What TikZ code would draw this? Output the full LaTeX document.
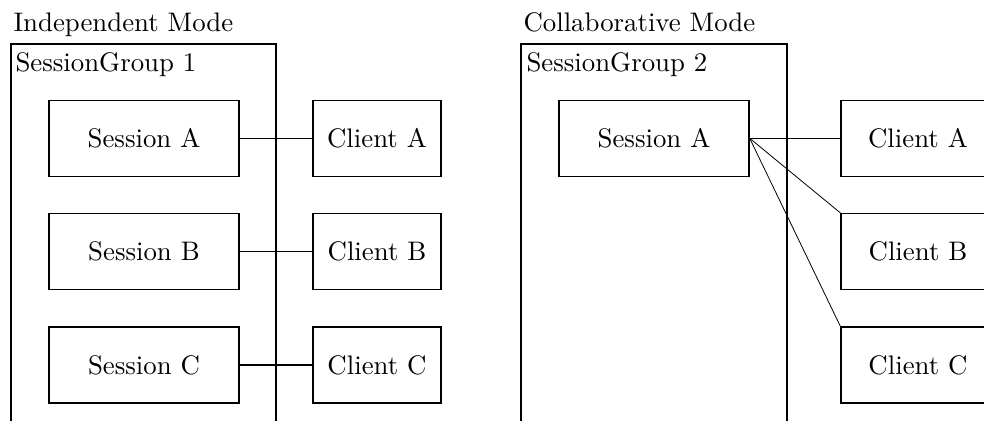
\documentclass[tikz,border=0pt]{standalone}
\begin{document}
\begin{tikzpicture}[x=0.373pt,y=-0.373pt,
  box/.style={draw,line width=0.5pt,rectangle,inner sep=0pt,minimum height=28.3pt,font=\normalsize},
  sessbox/.style={box,minimum width=70.9pt},
  clientbox/.style={box,minimum width=47.7pt},
  wideclient/.style={box,minimum width=57.4pt},
  label/.style={anchor=base west,inner sep=0pt},
  conn/.style={line width=0.5pt},
  thinconn/.style={line width=0.3pt},
  grp/.style={line width=0.5pt}]
\path[use as bounding box,clip] (0,0) rectangle (984,420);
% left group
\node[label] (t1) at (13,31) {Independent Mode};
\draw[grp] (11,44) rectangle (276,440);
\node[label] (g1) at (15,71) {SessionGroup 1};
\node[sessbox] (sa) at (144,138.3) {Session A};
\node[sessbox] (sb) at (144,251.5) {Session B};
\node[sessbox] (sc) at (144,365) {Session C};
\node[clientbox] (ca) at (377,138.3) {Client A};
\node[clientbox] (cb) at (377,251.5) {Client B};
\node[clientbox] (cc) at (377,365) {Client C};
\draw[conn] (sa.east) -- (ca.west);
\draw[conn] (sb.east) -- (cb.west);
\draw[conn] (sc.east) -- (cc.west);
% right group
\node[label] (t2) at (523,31) {Collaborative Mode};
\draw[grp] (521,44) rectangle (787,440);
\node[label] (g2) at (526,71) {SessionGroup 2};
\node[sessbox] (rs) at (654,138.3) {Session A};
\node[wideclient] (ra) at (918,138.3) {Client A};
\node[wideclient] (rb) at (918,251.5) {Client B};
\node[wideclient] (rc) at (918,365) {Client C};
\draw[conn] (rs.east) -- (ra.west);
\draw[thinconn] (rs.east) -- (rb.north west);
\draw[thinconn] (rs.east) -- (rc.north west);
\end{tikzpicture}
\end{document}
